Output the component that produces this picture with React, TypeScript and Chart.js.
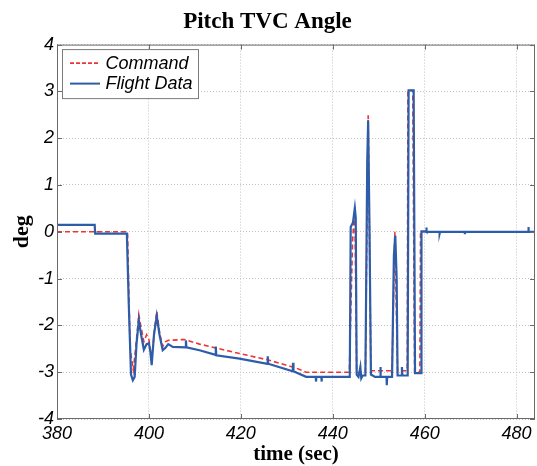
import React, { useEffect, useRef } from "react";
import { Chart, registerables } from "chart.js";

Chart.register(...registerables);

// Pitch thrust-vector-control angle: commanded vs. measured (deg over time in sec)
const commandTime = [
  380, 395.35, 395.9, 396.6, 397.2, 397.8, 398.3, 398.9, 399.5, 400.0, 400.6, 401.2,
  401.7, 402.4, 403.0, 403.6, 404.2, 407.7, 411.0, 419.7, 426.0, 432.0, 434.2, 443.6,
  444.3, 444.8, 445.2, 447.1, 447.7, 448.3, 452.9, 453.5, 454.1, 456.2, 456.35, 457.4,
  457.8, 458.95, 459.1, 484,
];
const commandDeg = [
  0, 0, -2.5, -2.95, -2.4, -1.77, -2.05, -2.35, -2.2, -2.3, -2.75, -2.1,
  -1.7, -2.2, -2.45, -2.35, -2.32, -2.3, -2.4, -2.6, -2.74, -2.91, -3.0, -3.0,
  -0.2, 0.53, -3.0, -3.0, 2.49, -2.97, -2.97, 0.0, -2.97, -2.97, 3.02, 3.02,
  -3.0, -3.0, 0, 0,
];

const flightTime = [
  380, 388.2, 388.3, 395.2, 395.6, 396.1, 396.5, 396.9, 397.3, 397.8, 398.3, 398.9,
  399.5, 400.0, 400.3, 400.6, 401.1, 401.7, 402.3, 403.0, 403.6, 404.2, 405.2, 408.0,
  408.05, 408.15, 411.0, 414.5, 414.55, 414.65, 419.7, 425.8, 425.85, 425.95, 431.3, 431.35,
  431.45, 434.2, 436.3, 436.35, 436.45, 437.5, 437.55, 437.65, 443.7, 443.9, 444.4, 444.8,
  445.0, 445.2, 445.6, 446.0, 446.2, 446.5, 447.1, 447.5, 447.7, 448.0, 448.3, 449.2,
  450.3, 450.35, 450.45, 451.7, 451.75, 451.85, 452.9, 453.3, 453.6, 453.9, 454.1, 455.0,
  455.05, 455.15, 456.3, 456.5, 457.6, 457.9, 459.2, 459.3, 460.3, 460.35, 460.45, 463.2,
  463.25, 463.35, 468.7, 468.75, 468.85, 482.5, 482.55, 482.65, 484,
];
const flightDeg = [
  0.15, 0.15, -0.04, -0.04, -1.5, -3.05, -3.17, -3.1, -2.4, -1.89, -2.2, -2.52,
  -2.4, -2.38, -2.55, -2.85, -2.2, -1.8, -2.2, -2.53, -2.48, -2.4, -2.46, -2.47,
  -2.32, -2.47, -2.53, -2.63, -2.45, -2.64, -2.71, -2.82, -2.66, -2.82, -2.98, -2.8,
  -2.98, -3.1, -3.1, -3.2, -3.1, -3.1, -3.2, -3.1, -3.1, 0.1, 0.2, 0.51,
  0.3, -3.05, -3.1, -2.89, -3.13, -3.07, -3.07, 1.5, 2.38, 0.0, -3.05, -3.1,
  -3.1, -2.89, -3.1, -3.1, -3.28, -3.1, -3.1, -0.5, -0.08, -1.0, -3.07, -3.07,
  -2.89, -3.07, -3.07, 3.02, 3.02, -3.02, -3.02, 0.01, 0.01, 0.09, 0.0, 0.0,
  -0.04, 0.0, 0.0, -0.05, 0.0, 0.0, 0.1, 0.0, 0.0,
];

const seriesNames = ["Command", "Flight Data"];
const commandColor = "#ee3434";
const flightColor = "#2d5da9";

const sansFont = "'Liberation Sans', Arial, sans-serif";
const serifFont = "'Liberation Serif', 'Times New Roman', serif";

const toPoints = (xs: number[], ys: number[]) => xs.map((x, i) => ({ x, y: ys[i] }));

// Axes frame with inward tick marks plus the boxed legend in the top-left corner
const framePlugin = {
  id: "frameAndLegend",
  afterDraw(chart: any) {
    const { ctx, chartArea: a, scales } = chart;
    const xs = scales.x;
    const ys = scales.y;
    ctx.save();
    ctx.strokeStyle = "#6a6a6a";
    ctx.lineWidth = 1;
    ctx.setLineDash([]);
    ctx.strokeRect(a.left + 0.5, a.top + 0.5, a.right - a.left - 1, a.bottom - a.top - 1);
    const len = 5;
    ctx.beginPath();
    xs.ticks.forEach((t: any) => {
      const px = Math.round(xs.getPixelForValue(t.value)) + 0.5;
      ctx.moveTo(px, a.bottom);
      ctx.lineTo(px, a.bottom - len);
      ctx.moveTo(px, a.top);
      ctx.lineTo(px, a.top + len);
    });
    ys.ticks.forEach((t: any) => {
      const py = Math.round(ys.getPixelForValue(t.value)) + 0.5;
      ctx.moveTo(a.left, py);
      ctx.lineTo(a.left + len, py);
      ctx.moveTo(a.right, py);
      ctx.lineTo(a.right - len, py);
    });
    ctx.stroke();

    // legend
    const bx = a.left + 5;
    const by = a.top + 4.5;
    const bw = 136;
    const bh = 49;
    ctx.fillStyle = "#ffffff";
    ctx.fillRect(bx, by, bw, bh);
    ctx.strokeStyle = "#7a7a7a";
    ctx.strokeRect(bx + 0.5, by + 0.5, bw, bh);
    const rows = [
      { label: seriesNames[0], color: commandColor, dash: [4, 2], width: 1.6, dy: 14 },
      { label: seriesNames[1], color: flightColor, dash: [], width: 2, dy: 34.5 },
    ];
    ctx.font = `italic 18px ${sansFont}`;
    ctx.textBaseline = "middle";
    ctx.textAlign = "left";
    rows.forEach((r) => {
      const y = by + r.dy;
      ctx.beginPath();
      ctx.strokeStyle = r.color;
      ctx.lineWidth = r.width;
      ctx.setLineDash(r.dash);
      ctx.moveTo(bx + 8, y);
      ctx.lineTo(bx + 38, y);
      ctx.stroke();
      ctx.fillStyle = "#000000";
      ctx.fillText(r.label, bx + 43.5, y + 0.5);
    });
    ctx.restore();
  },
};

export default function App() {
  const canvasRef = useRef<HTMLCanvasElement | null>(null);

  useEffect(() => {
    const canvas = canvasRef.current;
    if (!canvas) return;
    const chart = new Chart(canvas, {
      type: "line",
      data: {
        datasets: [
          {
            label: seriesNames[1],
            data: toPoints(flightTime, flightDeg),
            borderColor: flightColor,
            borderWidth: 2.2,
            pointRadius: 0,
            tension: 0,
            order: 1,
          },
          {
            label: seriesNames[0],
            data: toPoints(commandTime, commandDeg),
            borderColor: commandColor,
            borderWidth: 1.6,
            borderDash: [5, 3],
            pointRadius: 0,
            tension: 0,
            order: 2,
          },
        ],
      },
      options: {
        animation: false,
        responsive: false,
        layout: { padding: { top: 0, right: 2, bottom: 0, left: 0 } },
        plugins: {
          legend: { display: false },
          tooltip: { enabled: false },
          title: {
            display: true,
            text: "Pitch TVC Angle",
            color: "#000000",
            font: { family: serifFont, size: 23, weight: "bold", lineHeight: 1.2 },
            padding: { top: 8, bottom: 9 },
          },
        },
        scales: {
          x: {
            type: "linear",
            min: 380,
            max: 484,
            afterFit: (s: any) => {
              s.height = 47;
            },
            ticks: {
              stepSize: 20,
              includeBounds: false,
              color: "#000000",
              padding: 4,
              maxRotation: 0,
              font: { family: sansFont, size: 18, style: "italic" },
            },
            grid: { color: "#c2c2c2", lineWidth: 1, drawTicks: false },
            border: { display: false, dash: [1, 2] },
            title: {
              display: true,
              text: "time (sec)",
              color: "#000000",
              font: { family: serifFont, size: 21, weight: "bold", lineHeight: 1 },
              padding: { top: 0, bottom: 0.5 },
            },
          },
          y: {
            type: "linear",
            min: -4,
            max: 4,
            afterFit: (s: any) => {
              s.width = 57;
            },
            ticks: {
              stepSize: 1,
              color: "#000000",
              padding: 3,
              font: { family: sansFont, size: 18, style: "italic" },
            },
            grid: { color: "#c2c2c2", lineWidth: 1, drawTicks: false },
            border: { display: false, dash: [1, 2] },
            title: {
              display: true,
              text: "deg",
              color: "#000000",
              font: { family: serifFont, size: 22, weight: "bold", lineHeight: 1.2 },
              padding: { top: 9, bottom: 0 },
            },
          },
        },
      },
      plugins: [framePlugin],
    });
    return () => chart.destroy();
  }, []);

  return (
    <div style={{ position: "absolute", left: 0, top: 0, width: 537, height: 466, background: "#ffffff" }}>
      <canvas ref={canvasRef} width={537} height={466} style={{ display: "block" }} />
    </div>
  );
}
